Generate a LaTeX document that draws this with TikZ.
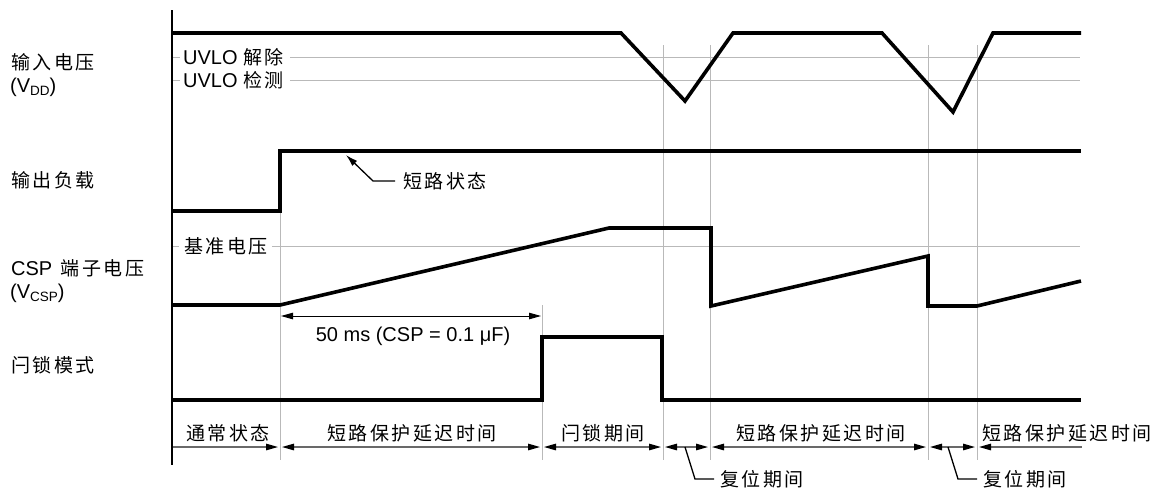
\documentclass[tikz,border=0pt]{standalone}
\usepackage{fontspec}
\setmainfont{Liberation Sans}
\newfontfamily\cjkfam[LetterSpace=13]{Noto Sans CJK SC}
\newcommand\cjk{\cjkfam\fontsize{19}{21}\selectfont}
\usetikzlibrary{arrows.meta}
\definecolor{gridgray}{RGB}{185,185,185}
\definecolor{dimgray}{RGB}{105,105,105}
\newcommand\mysub[1]{\raisebox{-0.35ex}{\fontsize{13.5}{14}\selectfont #1}}
\begin{document}
\begin{tikzpicture}[x=1pt,y=-1pt,
  wave/.style={line width=3.6pt, line join=miter},
  gridl/.style={gridgray, line width=1pt},
  lbl/.style={font=\fontsize{20}{22}\selectfont, inner sep=0pt},
  tl/.style={dimgray, line width=1.3pt},
  rtip/.style={-{Triangle[length=12pt,width=6.5pt,black]}},
  ltip/.style={{Triangle[length=12pt,width=6.5pt,black]}-},
  btip/.style={{Triangle[length=12pt,width=6.5pt,black]}-{Triangle[length=12pt,width=6.5pt,black]}},
  callout/.style={black, line width=1.3pt}
]
\useasboundingbox (0,0) rectangle (1152,488);

% ---------- row labels ----------
\node[lbl, anchor=west] (vin)  at (11,62)  {\cjk 输入电压};
\node[lbl, anchor=west] (vdd)  at (10,87)  {(V\mysub{DD})};
\node[lbl, anchor=west] (load) at (11,180) {\cjk 输出负载};
\node[lbl, anchor=west] (csp)  at (11,268) {CSP\hspace{3pt} {\cjk 端子电压}};
\node[lbl, anchor=west] (vcsp) at (10,293) {(V\mysub{CSP})};
\node[lbl, anchor=west] (latch) at (11,365) {\cjk 闩锁模式};

% ---------- level labels and horizontal reference lines ----------
\node[lbl, anchor=west] (uvrel) at (183,57) {UVLO {\cjk 解除}};
\node[lbl, anchor=west] (uvdet) at (183,80) {UVLO {\cjk 检测}};
\node[lbl, anchor=west] (vref)  at (184,246) {\cjk 基准电压};
\draw[gridl] (172,57) -- ([xshift=-3pt]uvrel.west);
\draw[gridl] ([xshift=6pt]uvrel.east) -- (1080,57);
\draw[gridl] (172,80) -- ([xshift=-3pt]uvdet.west);
\draw[gridl] ([xshift=6pt]uvdet.east) -- (1080,80);
\draw[gridl] (172,246) -- ([xshift=-5pt]vref.west);
\draw[gridl] ([xshift=4pt]vref.east) -- (1080,246);

% ---------- vertical grid lines ----------
\draw[gridl] (280,211) -- (280,460);
\draw[gridl] (542,305) -- (542,460);
\draw[gridl] (663,45) -- (663,460);
\draw[gridl] (710,45) -- (710,460);
\draw[gridl] (928,45) -- (928,460);
\draw[gridl] (977,45) -- (977,460);

% ---------- axis ----------
\draw[line width=1.8pt] (172,10) -- (172,465);

% ---------- waveforms ----------
\draw[wave] (172,33) -- (621,33) -- (685,101) -- (733,33) -- (882,33)
            -- (953,112) -- (993,33) -- (1081,33);
\draw[wave] (172,211) -- (280,211) -- (280,151) -- (1081,151);
\draw[wave] (172,305) -- (280,305) -- (609,228) -- (711,228) -- (711,306)
            -- (928,256) -- (928,306) -- (977,306) -- (1081,281);
\draw[wave] (172,400) -- (542,400) -- (542,337) -- (662,337) -- (662,400) -- (1081,400);

% ---------- short-circuit callout ----------
\node[lbl, anchor=west] (sc) at (403,181) {\cjk 短路状态};
\coordinate (scbend) at (373,181);
\coordinate (sctip) at (346,155);
\draw[callout, -{Latex[length=12pt,width=7pt]}] ([xshift=-8pt]sc.west) -- (scbend) -- (sctip);

% ---------- 50 ms dimension ----------
\coordinate (d1) at (281,316);
\coordinate (d2) at (541,316);
\draw[black, line width=1pt, btip] (d1) -- (d2);
\node[lbl] (dim) at (413,336) {50 ms (CSP = 0.1 μF)};

% ---------- time line ----------
\coordinate (t0) at (173,447);
\coordinate (t1) at (280,447);
\coordinate (t2) at (542,447);
\coordinate (t3) at (663,447);
\coordinate (t4) at (710,447);
\coordinate (t5) at (928,447);
\coordinate (t6) at (977,447);
\coordinate (t7) at (1082,447);
\draw[tl, rtip] (t0) -- ([xshift=-2pt]t1);
\draw[tl, btip] ([xshift=2pt]t1) -- ([xshift=-2pt]t2);
\draw[tl, btip] ([xshift=2pt]t2) -- ([xshift=-2pt]t3);
\draw[tl, btip] ([xshift=2pt]t3) -- ([xshift=-2pt]t4);
\draw[tl, btip] ([xshift=2pt]t4) -- ([xshift=-2pt]t5);
\draw[tl, btip] ([xshift=2pt]t5) -- ([xshift=-2pt]t6);
\draw[tl, ltip] ([xshift=2pt]t6) -- (t7);

\node[lbl] (p1) at (228,433) {\cjk 通常状态};
\node[lbl] (p2) at (412,433) {\cjk 短路保护延迟时间};
\node[lbl] (p3) at (603,433) {\cjk 闩锁期间};
\node[lbl] (p4) at (821,433) {\cjk 短路保护延迟时间};
\node[lbl] (p5) at (1067,433) {\cjk 短路保护延迟时间};

% ---------- reset period callouts ----------
\node[lbl, anchor=west] (r1) at (720,479) {\cjk 复位期间};
\node[lbl, anchor=west] (r2) at (983,479) {\cjk 复位期间};
\coordinate (r1a) at (685,447);
\coordinate (r1b) at (695,479);
\coordinate (r2a) at (948,447);
\coordinate (r2b) at (958,479);
\draw[callout] (r1a) -- (r1b) -- ([xshift=-6pt]r1.west);
\draw[callout] (r2a) -- (r2b) -- ([xshift=-6pt]r2.west);
\end{tikzpicture}
\end{document}
